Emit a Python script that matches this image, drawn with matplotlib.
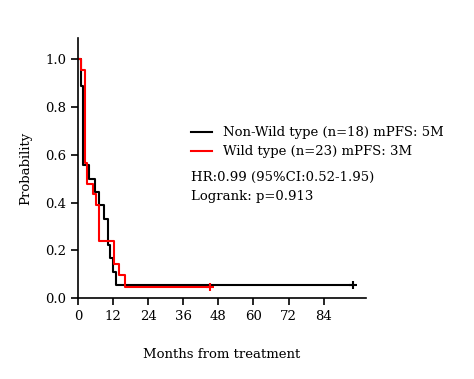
import matplotlib.pyplot as plt

# ── Datos ────────────────────────────────────────────────────────────────────
nonwt_t = [0, 0.9, 1.8, 3.9, 5.9, 7.2, 9.0, 10.4, 11.1, 12.0, 13.1, 94]
nonwt_s = [1.0, 0.889, 0.556, 0.5, 0.444, 0.389, 0.333, 0.222, 0.167, 0.111, 0.056, 0.056]
wt_t = [0, 1.0, 2.4, 3.2, 5.2, 6.1, 7.2, 12.2, 14.0, 16.2, 45.2]
wt_s = [1.0, 0.957, 0.565, 0.478, 0.435, 0.391, 0.239, 0.143, 0.095, 0.048, 0.048]
nonwt_cens_t, nonwt_cens_s = [94], [0.056]
wt_cens_t, wt_cens_s = [45.2], [0.048]

labels = ["Non-Wild type (n=18) mPFS: 5M", "Wild type (n=23) mPFS: 3M"]
xticks = [0, 12, 24, 36, 48, 60, 72, 84]
yticks = [0.0, 0.2, 0.4, 0.6, 0.8, 1.0]
stats_text = "HR:0.99 (95%CI:0.52-1.95)\nLogrank: p=0.913"

plt.rcParams["font.family"] = "DejaVu Serif"

fig = plt.figure(figsize=(4.74, 3.79), dpi=100)
ax = fig.add_axes([78 / 474, 1 - 298 / 379, (366 - 78) / 474, (298 - 38) / 379])

l1, = ax.step(nonwt_t, nonwt_s, where="post", color="black", lw=1.5)
l2, = ax.step(wt_t, wt_s, where="post", color="red", lw=1.5)
ax.plot(nonwt_cens_t, nonwt_cens_s, "+", color="black", ms=6, mew=1.5)
ax.plot(wt_cens_t, wt_cens_s, "+", color="red", ms=6, mew=1.5)

ax.set_xlim(0, 98.5)
ax.set_ylim(0, 1.09)
ax.set_xticks(xticks)
ax.set_yticks(yticks)
ax.set_yticklabels([f"{v:.1f}" for v in yticks])
ax.tick_params(direction="out", length=5, width=1.2, labelsize=9.5, colors="black")
for side in ["top", "right"]:
    ax.spines[side].set_visible(False)
for side in ["left", "bottom"]:
    ax.spines[side].set_linewidth(1.2)

ax.set_xlabel("Months from treatment", fontsize=9.5, labelpad=18)
ax.set_ylabel("Probability", fontsize=9.5, labelpad=9)

ax.legend([l1, l2], labels, frameon=False, fontsize=9.5, loc="upper left",
          bbox_to_anchor=(0.37, 0.685), handlelength=1.6, handletextpad=0.8,
          labelspacing=0.45, borderpad=0)
ax.text(0.393, 0.487, stats_text, transform=ax.transAxes, fontsize=9.5,
        va="top", ha="left", linespacing=1.55)

fig.savefig("out.png", dpi=100)
